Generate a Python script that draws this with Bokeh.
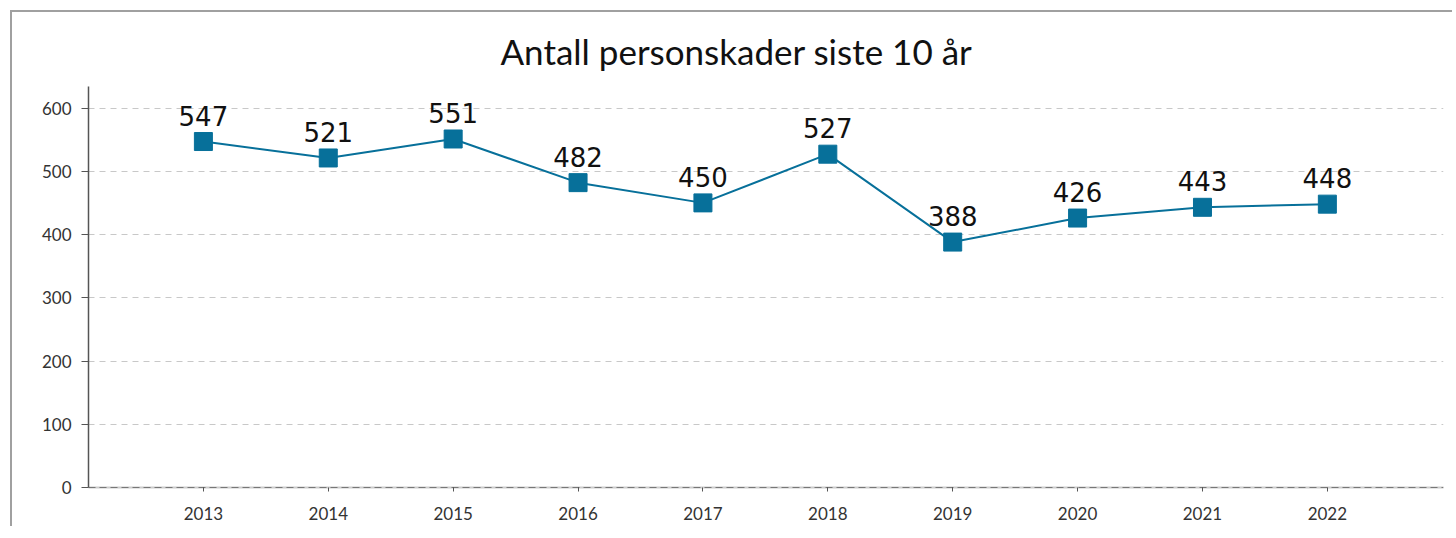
from bokeh.plotting import figure
from bokeh.models import Range1d, Span, FixedTicker, ColumnDataSource
from bokeh.core.properties import value
from bokeh.embed import file_html
from bokeh.resources import INLINE

years = [2013, 2014, 2015, 2016, 2017, 2018, 2019, 2020, 2021, 2022]
injuries = [547, 521, 551, 482, 450, 527, 388, 426, 443, 448]
y_ticks = [0, 100, 200, 300, 400, 500, 600]
title_text = "Antall personskader siste 10 år"

src = ColumnDataSource(dict(x=years, y=injuries, lbl=[str(v) for v in injuries]))

p = figure(width=1442, height=516, output_backend="svg", toolbar_location=None,
           x_range=Range1d(2012.08, 2022.93), y_range=Range1d(0, 634),
           min_border_left=76, min_border_right=11, min_border_top=73, min_border_bottom=41,
           styles={"margin-left": "10px", "margin-top": "10px",
                   "border-top": "2px solid #a0a0a0", "border-left": "2px solid #a0a0a0",
                   "border-right": "none", "border-bottom": "none"})
p.outline_line_color = None
p.background_fill_color = "white"

p.title.text = title_text
p.title.align = "left"
p.title.offset = 412
p.title.text_font = "Lato"
p.title.text_font_size = "35px"
p.title.text_font_style = "normal"
p.title.text_color = "#111111"
p.title.standoff = 30

p.xgrid.grid_line_color = None
p.ygrid.ticker = FixedTicker(ticks=y_ticks[1:])
p.ygrid.grid_line_color = "#c8c8c8"
p.ygrid.grid_line_dash = "6 5"
p.ygrid.grid_line_width = 1

p.xaxis.ticker = FixedTicker(ticks=years)
p.xaxis.axis_line_color = "#cccccc"
p.xaxis.axis_line_width = 2
p.xaxis.major_tick_line_color = "#555555"
p.xaxis.major_tick_out = 4
p.xaxis.major_tick_in = 0
p.xaxis.minor_tick_line_color = None
p.xaxis.major_label_text_font = "Lato"
p.xaxis.major_label_text_font_size = "17px"
p.xaxis.major_label_text_color = "#333333"
p.xaxis.major_label_standoff = 15

p.yaxis.ticker = FixedTicker(ticks=y_ticks)
p.yaxis.axis_line_color = "#555555"
p.yaxis.axis_line_width = 1.5
p.yaxis.major_tick_line_color = "#555555"
p.yaxis.major_tick_out = 7
p.yaxis.major_tick_in = 0
p.yaxis.minor_tick_line_color = None
p.yaxis.major_label_text_font = "Lato"
p.yaxis.major_label_text_font_size = "17px"
p.yaxis.major_label_text_color = "#333333"
p.yaxis.major_label_standoff = 10

p.add_layout(Span(location=0, dimension="width", line_color="#222222",
                  line_dash="7 4", line_width=1))

color = "#07709a"
p.line("x", "y", source=src, line_color=color, line_width=2)
p.scatter("x", "y", source=src, marker="square", size=18, fill_color=color, line_color=color)
p.text("x", "y", text="lbl", source=src, text_align="center", text_baseline="alphabetic",
       y_offset=-26, text_font=value("DejaVu Sans"), text_font_size="26px", text_color="#111111")

open("out.html", "w").write(file_html(p, INLINE))
